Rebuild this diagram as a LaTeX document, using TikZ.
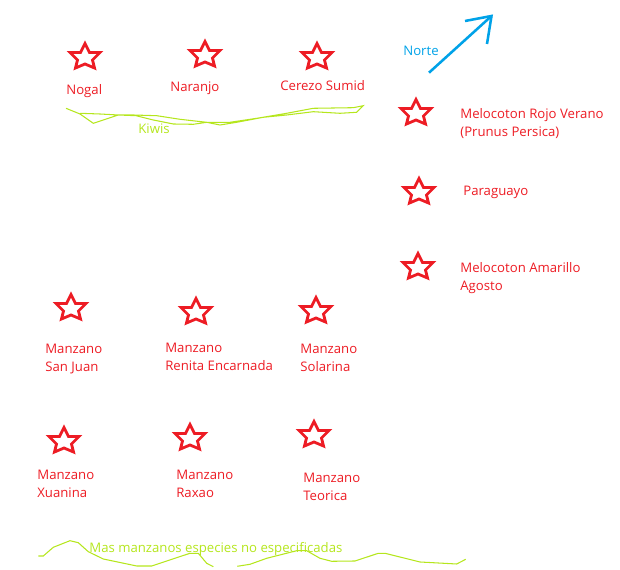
\documentclass[tikz,border=0pt]{standalone}
\usepackage{fontspec}
\setmainfont{Open Sans}
\definecolor{starred}{HTML}{ED1C24}
\definecolor{kiwigreen}{HTML}{B5E61D}
\definecolor{nortblue}{HTML}{00A2E8}
\begin{document}
\begin{tikzpicture}[
			x=0.02cm, y=-0.02cm,
			treestar/.pic = {\draw[starred, line width=1.6pt, line join=miter, miter limit=3] (0,-12.5) -- (4.5,-3.5) -- (15,-3.5) -- (7.5,4) -- (9.5,12) -- (0,8) -- (-9.5,12) -- (-7.5,4) -- (-15,-3.5) -- (-4.5,-3.5) -- cycle;},
			treelabel/.style = {anchor=west, align=left, inner sep=0pt, text=starred, font=\fontsize{7.5pt}{10.2pt}\selectfont},
			kiwilabel/.style = {treelabel, text=kiwigreen},
			scribble/.style = {kiwigreen, line width=0.6pt},
			nortearrow/.style = {nortblue, line width=1.45pt}
					]
			\useasboundingbox (0,0) rectangle (620,570);
			% top row
			\pic (nogalstar) at (85,56) {treestar};
			\pic (naranjostar) at (205,54) {treestar};
			\pic (cerezostar) at (317,56) {treestar};
			\node[treelabel] (nogal) at (66,91.5) {Nogal};
			\node[treelabel] (naranjo) at (170,88.5) {Naranjo};
			\node[treelabel] (cerezo) at (280,85.5) {Cerezo Sumid};
			\node[kiwilabel] (kiwis) at (138,128.5) {Kiwis};
			\draw[scribble] (66,108.3) -- (80,114) -- (93.3,123.3) -- (118.3,115) -- (133.3,115) -- (156.7,115.7) -- (180,119.3) -- (206.7,122.3) -- (230,122.3) -- (256.7,118.3) -- (286.7,113.3) -- (313.3,108.3) -- (353.3,107.7) -- (363.3,105.7) -- (356.7,112.3) -- (340,113.3) -- (313.3,111.7) -- (286.7,115) -- (263.3,117.3) -- (236.7,122.3) -- (220,125) -- (206.7,122.3) -- (193.3,124.3) -- (173.3,124) -- (153.3,120) -- (136,115.7) -- (118.3,115) -- (100,114) -- (80,113.3);
			% north arrow
			\node[treelabel, text=nortblue] (norte) at (403,50.5) {Norte};
			\coordinate (nortetail) at (429,72.7);
			\coordinate (nortetip) at (491.5,16);
			\coordinate (nortebarba) at (465,21);
			\coordinate (nortebarbb) at (487,44);
			\draw[nortearrow] (nortetail) -- (nortetip);
			\draw[nortearrow] (nortebarba) -- (nortetip) -- (nortebarbb);
			% right column
			\pic (rojostar) at (416,112) {treestar};
			\pic (paraguayostar) at (419,191) {treestar};
			\pic (amarillostar) at (418,266) {treestar};
			\node[treelabel] (rojo) at (460,123.5) {Melocoton Rojo Verano\\(Prunus Persica)};
			\node[treelabel] (paraguayo) at (463,192.5) {Paraguayo};
			\node[treelabel] (amarillo) at (460,278.5) {Melocoton Amarillo\\Agosto};
			% manzanos
			\pic (sanjuanstar) at (71,307) {treestar};
			\pic (renitastar) at (196,311) {treestar};
			\pic (solarinastar) at (316,310) {treestar};
			\node[treelabel] (sanjuan) at (45,359.5) {Manzano\\San Juan};
			\node[treelabel] (renita) at (165,356.5) {Manzano\\Renita Encarnada};
			\node[treelabel] (solarina) at (300,357.5) {Manzano\\Solarina};
			\pic (xuaninastar) at (64,440) {treestar};
			\pic (raxaostar) at (190,437) {treestar};
			\pic (teoricastar) at (314,434) {treestar};
			\node[treelabel] (xuanina) at (37,483.5) {Manzano\\Xuanina};
			\node[treelabel] (raxao) at (176,483.5) {Manzano\\Raxao};
			\node[treelabel] (teorica) at (303,486.5) {Manzano\\Teorica};
			% bottom
			\node[kiwilabel] (masmanzanos) at (89,549.5) {Mas manzanos especies no especificadas};
			\draw[scribble] (38.3,556) -- (43.3,556) -- (53.3,547.3) -- (70,540.7) -- (78.3,542.7) -- (88.3,551.7) -- (103.3,559) -- (136.7,566) -- (151.7,566) -- (166.7,561) -- (190,553.3) -- (198.3,553.3) -- (206.7,563.3) -- (213.3,566.7);
			\draw[scribble] (237.3,566.3) -- (250,564.3) -- (266.7,558.3) -- (296.7,550.7) -- (306.7,550.7) -- (320,558.3) -- (331.7,561.3) -- (355,561) -- (378.3,553.3) -- (385,553.3) -- (420,562) -- (456.7,564) -- (465.7,559.3);
		\end{tikzpicture}
\end{document}
